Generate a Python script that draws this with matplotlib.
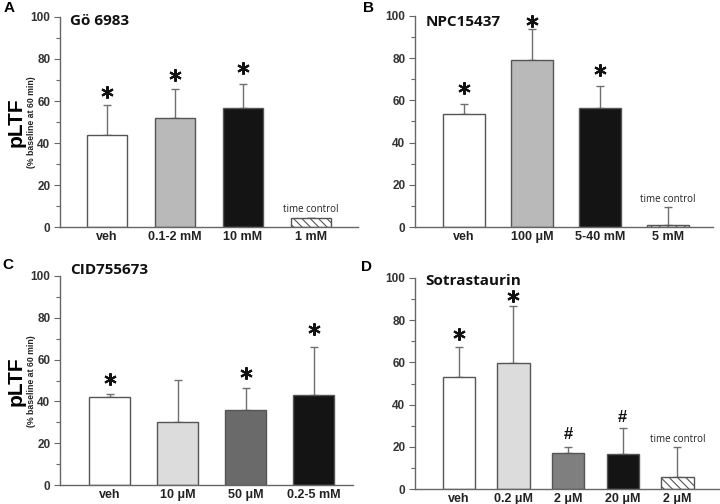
import numpy as np
import matplotlib
matplotlib.use('Agg')
import matplotlib.pyplot as plt

plt.rcParams['font.family'] = ['Liberation Sans', 'DejaVu Sans']
plt.rcParams['hatch.color'] = '#555555'
plt.rcParams['hatch.linewidth'] = 0.8

# Data (pLTF, % baseline at 60 min)

a_labels = ['veh', '0.1-2 mM', '10 mM', '1 mM']
a_vals = [43.6, 52.0, 56.9, 4.3]
a_err = [14.6, 13.6, 11.1, 0]
a_marks = ['*', '*', '*', '']
a_mark_y = [64.5, 72.4, 75.6, 0]

b_labels = ['veh', '100 μM', '5-40 mM', '5 mM']
b_vals = [53.5, 79.0, 56.5, 1.1]
b_err = [4.9, 14.8, 10.1, 8.4]
b_marks = ['*', '*', '*', '']
b_mark_y = [65.7, 97.5, 74.2, 0]

c_labels = ['veh', '10 μM', '50 μM', '0.2-5 mM']
c_vals = [41.9, 30.1, 35.7, 43.3]
c_err = [1.6, 20.1, 10.8, 22.9]
c_marks = ['*', '', '*', '*']
c_mark_y = [50.5, 0, 53.7, 74.7]

d_labels = ['veh', '0.2 μM', '2 μM', '20 μM', '2 μM']
d_vals = [53.1, 59.6, 17.2, 16.4, 5.5]
d_err = [14.2, 27.3, 2.5, 12.6, 14.5]
d_marks = ['*', '*', '#', '#', '']
d_mark_y = [73.5, 91.6, 26.0, 34.0, 0]


def panel(ax, labels, vals, err, colors, marks, mark_y, title, title_y, xlim, width,
          hatched=None, tc_text_y=None):
    x = np.arange(len(vals))
    bars = ax.bar(x, vals, width=width, color=colors, edgecolor='#555555',
                  linewidth=1, zorder=2)
    if hatched is not None:
        bars[hatched].set_hatch('\\\\\\\\')
        bars[hatched].set_facecolor('white')
    lower = [0] * len(vals)
    ax.errorbar(x, vals, yerr=[lower, err], fmt='none', ecolor='#707070',
                elinewidth=1, capsize=3, capthick=1, zorder=1)
    for xi, m, my in zip(x, marks, mark_y):
        if m == '*':
            ax.plot(xi, my, marker=(6, 2, 0), ms=9, mew=1.5, color='#111111',
                    zorder=3, clip_on=False)
        elif m == '#':
            ax.text(xi, my, '#', ha='center', va='center', fontsize=12,
                    fontweight='bold', color='#111111')
    if hatched is not None:
        ax.text(hatched, tc_text_y, 'time control', ha='center', va='bottom',
                fontsize=7, family=['Open Sans', 'DejaVu Sans'], color='#222222')
    ax.text(0.034, title_y, title, transform=ax.transAxes, fontsize=11,
            family=['Open Sans', 'DejaVu Sans'], fontweight='bold',
            ha='left', va='center', color='#111111')

    ax.set_xlim(xlim)
    ax.set_ylim(0, 100)
    ax.set_xticks(x)
    ax.set_xticklabels(labels, fontsize=9, fontweight='bold', color='#222222')
    ax.set_yticks(np.arange(0, 101, 20))
    ax.set_yticks(np.arange(10, 100, 20), minor=True)
    ax.tick_params(axis='y', which='major', length=4, width=0.8, color='#666666',
                   labelsize=8.5, pad=3, labelcolor='#333333')
    ax.tick_params(axis='y', which='minor', length=3, width=0.8, color='#666666')
    ax.tick_params(axis='x', length=0, pad=3)
    for lab in ax.get_yticklabels():
        lab.set_fontweight('bold')
    for s in ['top', 'right']:
        ax.spines[s].set_visible(False)
    for s in ['left', 'bottom']:
        ax.spines[s].set_color('#666666')
        ax.spines[s].set_linewidth(1)


fig = plt.figure(figsize=(7.2, 5.04), dpi=100)

axA = fig.add_axes([60 / 720, 1 - 227 / 504, 298 / 720, 210 / 504])
axB = fig.add_axes([415 / 720, 1 - 227 / 504, 298 / 720, 211 / 504])
axC = fig.add_axes([60 / 720, 1 - 485 / 504, 293 / 720, 209 / 504])
axD = fig.add_axes([415 / 720, 1 - 489 / 504, 304 / 720, 211 / 504])

panel(axA, a_labels, a_vals, a_err, ['white', '#b9b9b9', '#141414', 'white'],
      a_marks, a_mark_y, 'Gö 6983', 0.98, (-0.69, 3.69), 0.6, hatched=3, tc_text_y=5.5)
panel(axB, b_labels, b_vals, b_err, ['white', '#b9b9b9', '#141414', 'white'],
      b_marks, b_mark_y, 'NPC15437', 0.97, (-0.72, 3.66), 0.62, hatched=3, tc_text_y=10.5)
panel(axC, c_labels, c_vals, c_err, ['white', '#dcdcdc', '#6a6a6a', '#141414'],
      c_marks, c_mark_y, 'CID755673', 1.03, (-0.73, 3.58), 0.6)
panel(axD, d_labels, d_vals, d_err, ['white', '#dcdcdc', '#7f7f7f', '#141414', 'white'],
      d_marks, d_mark_y, 'Sotrastaurin', 0.985, (-0.8, 4.76), 0.59, hatched=4, tc_text_y=21)

# panel letters
for lx, ly, letter in [(9, 8, 'A'), (369, 8, 'B'), (8, 265, 'C'), (367, 267, 'D')]:
    fig.text(lx / 720, 1 - ly / 504, letter, ha='center', va='center',
             fontsize=11, fontweight='bold')

# y axis labels on left panels
for cy in [122, 381]:
    fig.text(16 / 720, 1 - cy / 504, 'pLTF', rotation=90, ha='center',
             va='center', fontsize=15, fontweight='bold')
    fig.text(31 / 720, 1 - cy / 504, '(% baseline at 60 min)', rotation=90,
             ha='center', va='center', fontsize=6.3, fontweight='bold',
             color='#222222')

fig.savefig('out.png', dpi=100)
